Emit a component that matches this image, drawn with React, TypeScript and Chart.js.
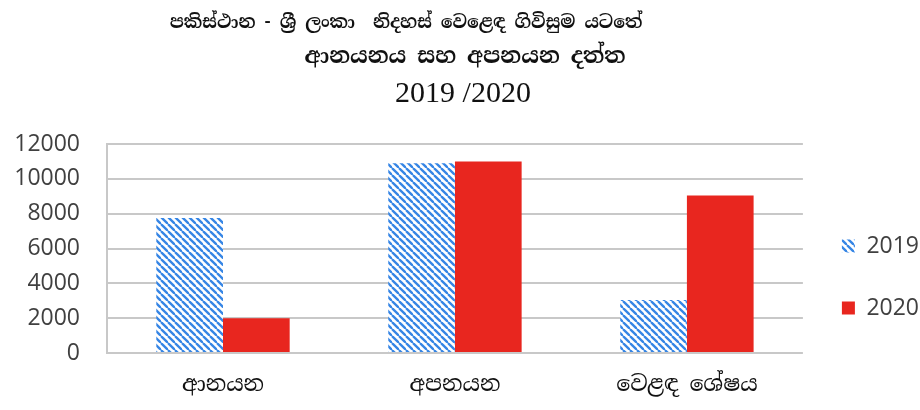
import React, { useEffect, useRef } from "react";
import { Chart, registerables } from "chart.js";

Chart.register(...registerables);

const categories = ["ආනයන", "අපනයන", "වෙළඳ ශේෂය"];
const seriesNames = ["2019", "2020"];
const values2019 = [7750, 10900, 3050];
const values2020 = [2000, 11000, 9050];
const titleLines = [
  "පකිස්ථාන - ශ්‍රී ලංකා  නිදහස් වෙළෙඳ ගිවිසුම යටතේ",
  "ආනයනය සහ අපනයන දත්ත",
  "2019 /2020",
];

const SINHALA = "'Iskoola Pota', 'Noto Serif Sinhala', 'Noto Sans Sinhala', 'Noto Sans', serif";

function makeHatch(): CanvasPattern | string {
  const s = 7;
  const c = document.createElement("canvas");
  c.width = s;
  c.height = s;
  const ctx = c.getContext("2d");
  if (!ctx) return "#3585e5";
  ctx.fillStyle = "#ffffff";
  ctx.fillRect(0, 0, s, s);
  ctx.strokeStyle = "#3585e5";
  ctx.lineWidth = 2.3;
  for (let k = -1; k <= 1; k++) {
    ctx.beginPath();
    ctx.moveTo(k * s, 0);
    ctx.lineTo(k * s + s, s);
    ctx.stroke();
  }
  const p = ctx.createPattern(c, "repeat");
  return p || "#3585e5";
}

const titlePlugin = {
  id: "customTitle",
  afterDraw(chart: any) {
    const ctx = chart.ctx as CanvasRenderingContext2D;
    ctx.save();
    ctx.fillStyle = "#111111";
    ctx.textAlign = "center";
    ctx.textBaseline = "middle";
    ctx.font = `bold 18px ${SINHALA}`;
    ctx.fillText(titleLines[0], 406, 23);
    ctx.font = `bold 22px ${SINHALA}`;
    ctx.fillText(titleLines[1], 465, 57);
    ctx.font = "30px 'Liberation Serif', 'Times New Roman', serif";
    ctx.fillText(titleLines[2], 463, 94);
    ctx.restore();
  },
};

export default function App() {
  const ref = useRef<HTMLCanvasElement | null>(null);
  useEffect(() => {
    document.body.style.margin = "0";
    if (!ref.current) return;
    const hatch = makeHatch();
    const chart = new Chart(ref.current, {
      type: "bar",
      data: {
        labels: categories,
        datasets: [
          {
            label: seriesNames[0],
            data: values2019,
            backgroundColor: hatch as any,
            borderWidth: 0,
            barPercentage: 1,
            categoryPercentage: 0.575,
          },
          {
            label: seriesNames[1],
            data: values2020,
            backgroundColor: "#e8261f",
            borderWidth: 0,
            barPercentage: 1,
            categoryPercentage: 0.575,
          },
        ],
      },
      options: {
        animation: false,
        responsive: false,
        layout: { padding: { top: 144, right: -9, bottom: 0, left: 10 } },
        plugins: {
          title: { display: false },
          tooltip: { enabled: false },
          legend: {
            position: "right",
            labels: {
              boxWidth: 13,
              boxHeight: 13,
              padding: 39,
              color: "#404040",
              font: { family: "'Open Sans', sans-serif", size: 23 },
            },
          },
        },
        scales: {
          x: {
            grid: { display: false, drawTicks: false },
            border: { display: false },
            ticks: {
              color: "#111111",
              padding: 19,
              font: { family: SINHALA, size: 22 },
            },
            afterFit: (scale: any) => {
              scale.height = 57;
            },
          },
          y: {
            min: 0,
            max: 12000,
            ticks: {
              stepSize: 2000,
              padding: 27,
              color: "#404040",
              font: { family: "'Open Sans', sans-serif", size: 23 },
              callback: (v: any) => String(v),
            },
            grid: { color: "#c8c8c8", lineWidth: 2, drawTicks: false },
            border: { display: true, color: "#c8c8c8", width: 2 },
            afterFit: (scale: any) => {
              scale.width = 97;
            },
          },
        },
      },
      plugins: [titlePlugin],
    });
    return () => chart.destroy();
  }, []);
  return (
    <div style={{ width: 920, height: 410 }}>
      <canvas ref={ref} width={920} height={410} style={{ display: "block" }} />
    </div>
  );
}
